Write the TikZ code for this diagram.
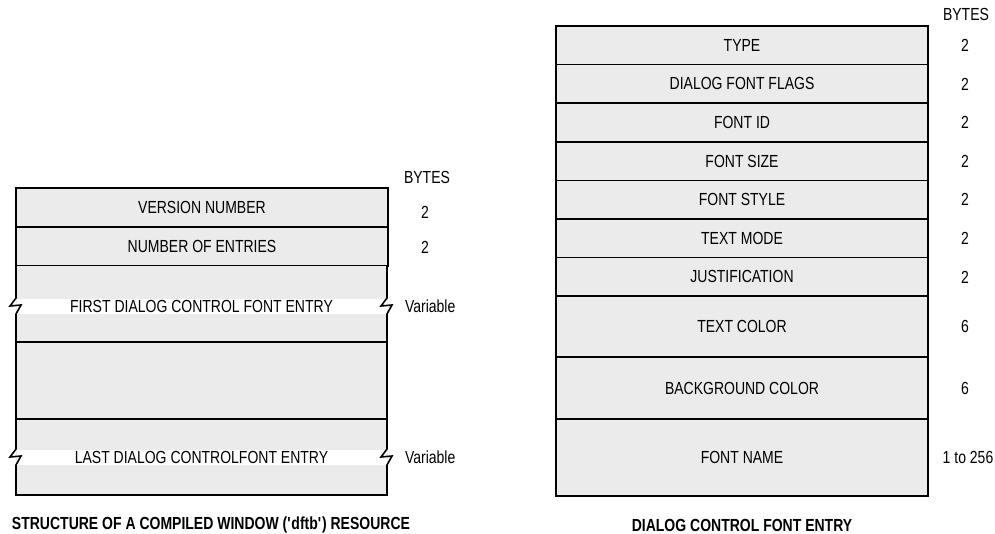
\documentclass[tikz,border=0pt]{standalone}
\usepackage{fontspec}
\setmainfont[FakeStretch=0.8]{Liberation Sans}
\usepackage{xcolor}
\usepackage{tikz}
\usetikzlibrary{positioning}
\definecolor{fieldgray}{HTML}{EBEBEB}

\begin{document}
\begin{tikzpicture}[
  x=1pt,y=-1pt,
  every node/.style={font=\fontsize{17.5}{19}\selectfont,inner sep=0pt,outer sep=0pt},
  field/.style={draw,line width=1.6pt,fill=fieldgray,minimum width=372pt,anchor=north west},
  band/.style={fill=white,minimum width=370pt,minimum height=15pt},
  rule/.style={line width=1.6pt},
  caption/.style={font=\fontsize{17.5}{19}\selectfont\bfseries}
]
  \useasboundingbox (0,0) rectangle (995,533);

  % compiled window resource
  \node (bytesl) at (427,177) {BYTES};
  \node[field,minimum height=39pt] (ver) at (16,188) {VERSION NUMBER};
  \node[field,minimum height=39pt] (num) at (16,227) {NUMBER OF ENTRIES};
  \node[field,draw=none,minimum height=229pt] (entries) at (16,266) {};
  \node[band] (first) at (201.5,306.5) {FIRST DIALOG CONTROL FONT ENTRY};
  \node[band] (last) at (201.5,457) {LAST DIALOG CONTROLFONT ENTRY};
  \draw[rule] (16,342) -- (386,342) (16,419) -- (386,419);
  \draw[rule] (16,266) -- (16,298) -- (10,306) -- (21,305) -- (16,314)
    -- (16,449) -- (10,457) -- (21,456) -- (16,465) -- (16,495)
    -- (387,495) -- (387,465) -- (392,456) -- (381,457) -- (387,449)
    -- (387,314) -- (392,305) -- (381,306) -- (387,298) -- (387,266);
  \node (bver) at (425,212) {2};
  \node (bnum) at (425,247) {2};
  \node[anchor=west] (bfirst) at (405,306) {Variable};
  \node[anchor=west] (blast) at (405,457) {Variable};
  \node[caption,anchor=west] (capl) at (12,525) {STRUCTURE OF A COMPILED WINDOW (\textquotesingle dftb\textquotesingle) RESOURCE};

  % dialog control font entry
  \node (bytesr) at (966,14) {BYTES};
  \node[field,minimum height=38.6pt] (type) at (556,26) {TYPE};
  \node[field,minimum height=38.6pt] (flags) at (556,64.6) {DIALOG FONT FLAGS};
  \node[field,minimum height=38.6pt] (fid) at (556,103.2) {FONT ID};
  \node[field,minimum height=38.6pt] (fsize) at (556,141.8) {FONT SIZE};
  \node[field,minimum height=38.6pt] (fstyle) at (556,180.4) {FONT STYLE};
  \node[field,minimum height=38.6pt] (tmode) at (556,219) {TEXT MODE};
  \node[field,minimum height=38.6pt] (just) at (556,257.6) {JUSTIFICATION};
  \node[field,minimum height=61pt] (tcolor) at (556,296.2) {TEXT COLOR};
  \node[field,minimum height=62pt] (bcolor) at (556,357.2) {BACKGROUND COLOR};
  \node[field,minimum height=76.8pt] (fname) at (556,419.2) {FONT NAME};
  \node (btype) at (965,45.3) {2};
  \node (bflags) at (965,83.9) {2};
  \node (bfid) at (965,122.5) {2};
  \node (bfsize) at (965,161.1) {2};
  \node (bfstyle) at (965,199.7) {2};
  \node (btmode) at (965,238.3) {2};
  \node (bjust) at (965,276.9) {2};
  \node (btcolor) at (965,326.7) {6};
  \node (bbcolor) at (965,388.2) {6};
  \node (bfname) at (968,457.6) {1 to 256};
  \node[caption] (capr) at (742,525) {DIALOG CONTROL FONT ENTRY};
\end{tikzpicture}
\end{document}
